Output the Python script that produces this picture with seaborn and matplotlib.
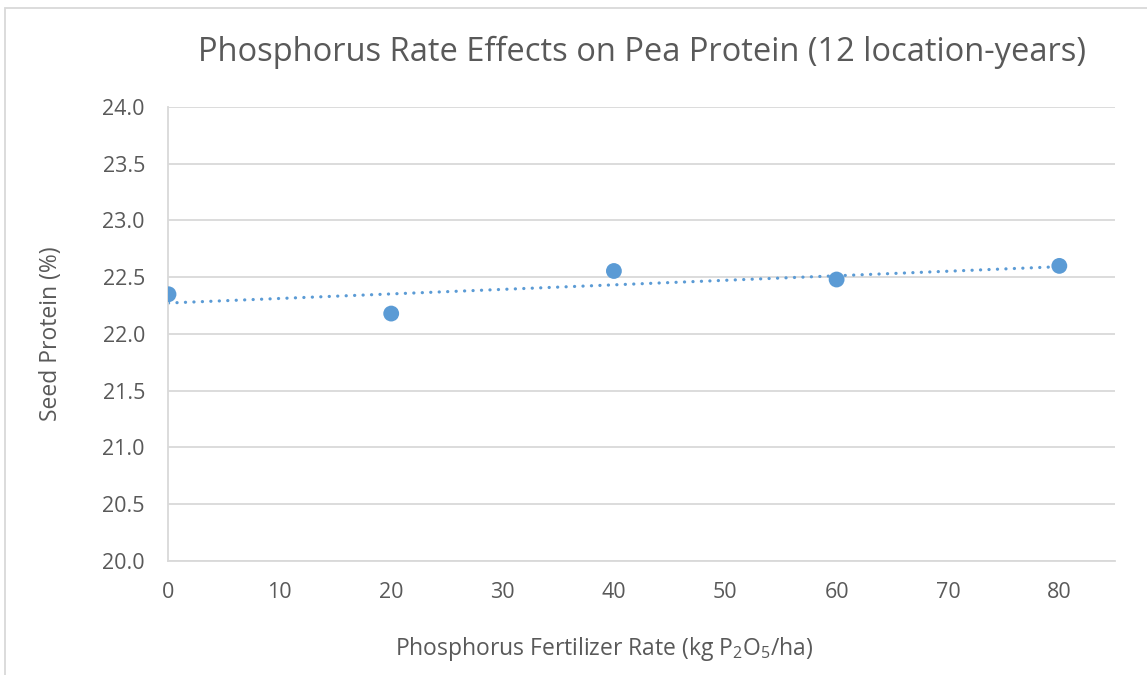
import numpy as np
import pandas as pd
import seaborn as sns
from matplotlib import pyplot as plt
from matplotlib.patches import Rectangle

# dados
rates = [0, 20, 40, 60, 80]
protein = [22.35, 22.18, 22.555, 22.48, 22.60]
y_ticks = [20.0, 20.5, 21.0, 21.5, 22.0, 22.5, 23.0, 23.5, 24.0]
x_ticks = [0, 10, 20, 30, 40, 50, 60, 70, 80]

df = pd.DataFrame({'rate': rates, 'protein': protein})

sns.set_style("white")
plt.rcParams['font.family'] = ['Open Sans', 'DejaVu Sans']
plt.rcParams['mathtext.default'] = 'regular'

blue = '#5B9BD5'
gray_txt = '#595959'
grid_c = '#D9D9D9'

fig = plt.figure(figsize=(11.47, 6.75), dpi=100)
ax = fig.add_axes([0.1469, 0.1689, 0.9721 - 0.1469, 0.8415 - 0.1689])

# borda da área do gráfico
fig.patches.append(Rectangle((5 / 1147, -0.1), 1.2, 1 - 8 / 675 + 0.1,
                             transform=fig.transFigure, fill=False,
                             edgecolor=grid_c, linewidth=1.3))

# linha de tendência linear
slope, intercept = np.polyfit(df['rate'], df['protein'], 1)
trend = pd.DataFrame({'rate': [rates[0], rates[-1]]})
trend['fit'] = intercept + slope * trend['rate']
ax.plot(trend['rate'], trend['fit'], color=blue, linewidth=2.3,
        linestyle=(0, (0.05, 2.6)), dash_capstyle='round', zorder=2)

sns.scatterplot(data=df, x='rate', y='protein', ax=ax, color=blue, s=130,
                edgecolor='none', zorder=3)

ax.set_xlim(0, 85)
ax.set_ylim(20, 24)
ax.set_yticks(y_ticks)
ax.set_yticklabels([f'{v:.1f}' for v in y_ticks])
ax.set_xticks(x_ticks)
ax.tick_params(axis='both', length=0, labelsize=15.5, colors=gray_txt)
ax.tick_params(axis='y', pad=17)
ax.tick_params(axis='x', pad=15)
ax.yaxis.grid(True, color=grid_c, linewidth=1.3)
ax.set_axisbelow(True)

sns.despine(ax=ax, top=True, right=True)
ax.spines['left'].set_color(grid_c)
ax.spines['bottom'].set_color(grid_c)
ax.spines['left'].set_linewidth(1.3)
ax.spines['bottom'].set_linewidth(1.3)

ax.set_xlabel('Phosphorus Fertilizer Rate (kg P$_2$O$_5$/ha)', fontsize=16.5,
              color=gray_txt, labelpad=23)
ax.xaxis.label.set_x(0.46)
ax.set_ylabel('Seed Protein (%)', fontsize=16.5, color=gray_txt, labelpad=28)
ax.set_title('Phosphorus Rate Effects on Pea Protein (12 location-years)',
             fontsize=23.5, color=gray_txt, pad=33)

fig.savefig('out.png', dpi=100, facecolor='white')
